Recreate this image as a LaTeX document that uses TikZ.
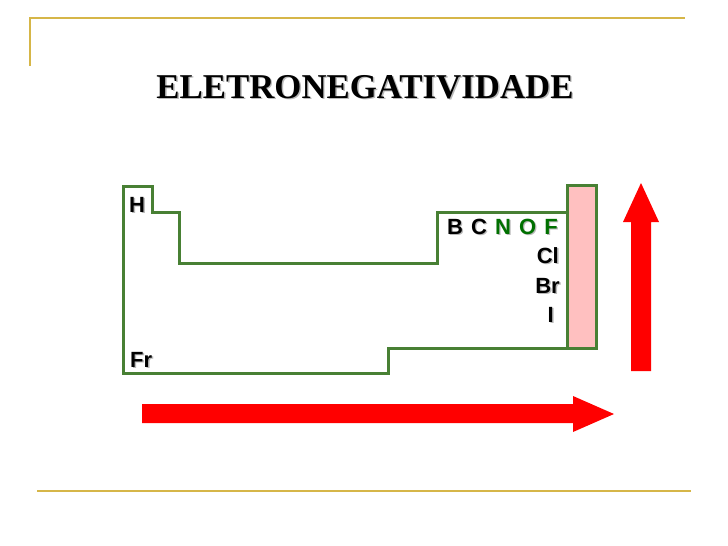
\documentclass[tikz,border=0pt]{standalone}
\usepackage{fontspec}
\setmainfont{Liberation Serif}
\newfontfamily\elemfont{Liberation Sans}
\usepackage{tikz}

\definecolor{ruleGold}{RGB}{214,182,72}
\definecolor{tableGreen}{RGB}{72,128,52}
\definecolor{nofGreen}{RGB}{0,112,0}
\definecolor{halogenPink}{RGB}{255,192,192}
\definecolor{shadowGray}{RGB}{185,185,185}

% text with a grey drop shadow: name, position, style, text
\newcommand{\hl}[1]{\textcolor{nofGreen}{#1}}
\newcommand{\gap}{\hspace{0.37em}}
\newcommand{\shadowtext}[4]{%
  \node[#3, text=shadowGray, xshift=1.4pt, yshift=-1.4pt] at #2 {\def\hl##1{##1}#4};
  \node[#3] (#1) at #2 {#4};}

\begin{document}
\begin{tikzpicture}[
  x=1pt, y=-1pt,
  rule/.style={draw=ruleGold, line width=2pt},
  table/.style={draw=tableGreen, line width=3pt, line join=miter},
  bigarrow/.style={fill=red, draw=none},
  title/.style={font=\fontsize{34.8}{40}\selectfont\bfseries, inner sep=0pt, anchor=base},
  elem/.style={font=\elemfont\fontsize{22}{24}\selectfont\bfseries, inner sep=0pt}
]
\useasboundingbox (0,0) rectangle (728,546);

% slide frame
\draw[rule] (30,66) -- (30,18) -- (685,18);
\draw[rule] (37,491) -- (691,491);

\shadowtext{title}{(365,98)}{title}{ELETRONEGATIVIDADE}

% outline of the table
\draw[table] (123,186) -- (152,186) -- (152,212) -- (179,212) -- (179,263)
  -- (437,263) -- (437,212) -- (567,212) -- (567,348) -- (388,348)
  -- (388,373) -- (123,373) -- cycle;
\draw[table, fill=halogenPink] (567,185) rectangle (596,348);

\shadowtext{H}{(129,212)}{elem, anchor=base west}{H}
\shadowtext{Fr}{(130,367)}{elem, anchor=base west}{Fr}
\shadowtext{row}{(558,234)}{elem, anchor=base east}{B\gap C\gap \hl{N\gap O\gap F}}
\shadowtext{Cl}{(559,263)}{elem, anchor=base east}{Cl}
\shadowtext{Br}{(560,293)}{elem, anchor=base east}{Br}
\shadowtext{I}{(554,322)}{elem, anchor=base east}{I}

% trends
\fill[bigarrow] (142,404) -- (573,404) -- (573,396) -- (614,414)
  -- (573,432) -- (573,423) -- (142,423) -- cycle;
\fill[bigarrow] (631,371) -- (631,222) -- (623,222) -- (641,183)
  -- (659,222) -- (651,222) -- (651,371) -- cycle;
\end{tikzpicture}
\end{document}
